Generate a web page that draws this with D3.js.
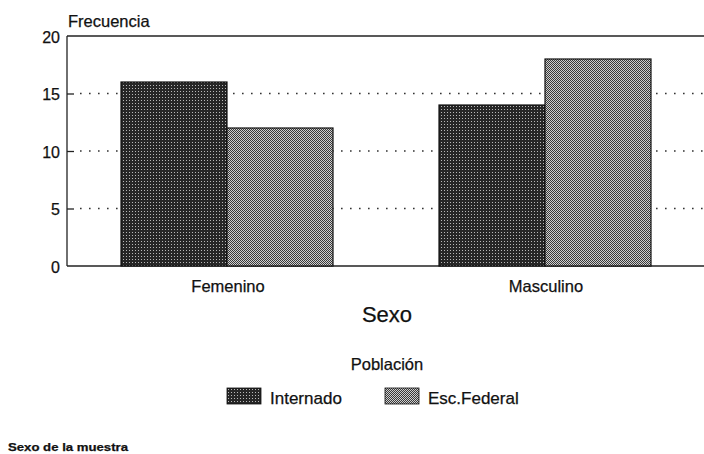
<!DOCTYPE html>
<html>
<head>
<meta charset="utf-8">
<script src="https://cdn.jsdelivr.net/npm/d3@7"></script>
<style>
  body { margin: 0; background: #fff; }
  text { font-family: "Liberation Sans", Arial, sans-serif; fill: #111; stroke: #111; stroke-width: 0.25px; }
</style>
</head>
<body>
<svg width="704" height="454"></svg>
<script>
var categories = ['Femenino', 'Masculino'];
var series = ['Internado', 'Esc.Federal'];
var internado = [16, 14];
var escFederal = [12, 18];
var yTicks = [0, 5, 10, 15, 20];

var svg = d3.select('svg');
var defs = svg.append('defs');

// halftone look of the scanned bars
var p1 = defs.append('pattern').attr('id', 'pInt')
    .attr('width', 3).attr('height', 3).attr('patternUnits', 'userSpaceOnUse');
p1.append('rect').attr('width', 3).attr('height', 3).attr('fill', '#262626');
p1.append('rect').attr('x', 1).attr('y', 1).attr('width', 1).attr('height', 1).attr('fill', '#b8b8b8');

var p2 = defs.append('pattern').attr('id', 'pEsc')
    .attr('width', 2).attr('height', 2).attr('patternUnits', 'userSpaceOnUse');
p2.append('rect').attr('width', 2).attr('height', 2).attr('fill', '#d0d0d0');
p2.append('rect').attr('width', 1).attr('height', 1).attr('fill', '#3a3a3a');
p2.append('rect').attr('x', 1).attr('y', 1).attr('width', 1).attr('height', 1).attr('fill', '#3a3a3a');

var fills = { 'Internado': 'url(#pInt)', 'Esc.Federal': 'url(#pEsc)' };

var mLeft = 67, mRight = 704, mTop = 36, mBottom = 266;

var x0 = d3.scaleBand().domain(categories).range([mLeft, mRight]).padding(0).round(true);
var x1 = d3.scaleBand().domain(series).range([0, x0.bandwidth()])
    .paddingInner(0).paddingOuter(0.5).round(true);
var y = d3.scaleLinear().domain([0, 20]).range([mBottom, mTop]);

// dotted grid
svg.append('g').selectAll('line')
    .data(yTicks.filter(function (d) { return d > 0 && d < 20; }))
    .enter().append('line')
    .attr('x1', mLeft + 13).attr('x2', mRight)
    .attr('y1', function (d) { return y(d); })
    .attr('y2', function (d) { return y(d); })
    .attr('stroke', '#333').attr('stroke-width', 1.6)
    .attr('stroke-dasharray', '1.6,7.4');

// frame
svg.append('line').attr('x1', mLeft).attr('x2', mRight).attr('y1', mTop).attr('y2', mTop)
    .attr('stroke', '#222').attr('stroke-width', 1.3);
svg.append('line').attr('x1', mLeft).attr('x2', mRight).attr('y1', mBottom).attr('y2', mBottom)
    .attr('stroke', '#222').attr('stroke-width', 1.3);
svg.append('line').attr('x1', mLeft).attr('x2', mLeft).attr('y1', mTop).attr('y2', mBottom)
    .attr('stroke', '#222').attr('stroke-width', 1.3);

// bars
var rows = categories.map(function (c, i) {
  return { cat: c, vals: [{ s: 'Internado', v: internado[i] }, { s: 'Esc.Federal', v: escFederal[i] }] };
});
var grp = svg.append('g').selectAll('g').data(rows).enter().append('g')
    .attr('transform', function (d) { return 'translate(' + x0(d.cat) + ',0)'; });
grp.selectAll('rect').data(function (d) { return d.vals; }).enter().append('rect')
    .attr('x', function (d) { return x1(d.s); })
    .attr('y', function (d) { return y(d.v); })
    .attr('width', x1.bandwidth())
    .attr('height', function (d) { return y(0) - y(d.v); })
    .attr('fill', function (d) { return fills[d.s]; })
    .attr('stroke', '#111').attr('stroke-width', 1.2);

// y axis
var yAxis = d3.axisLeft(y).tickValues(yTicks).tickSize(-7).tickPadding(14);
var ya = svg.append('g').attr('transform', 'translate(' + mLeft + ',0)').call(yAxis);
ya.select('.domain').remove();
ya.selectAll('.tick line').attr('stroke', '#222').attr('stroke-width', 1.3)
    .filter(function (d) { return d === 0 || d === 20; }).remove();
ya.selectAll('.tick text').attr('font-size', 16).attr('font-family', '"Liberation Sans", Arial, sans-serif')
    .attr('fill', '#111').attr('x', -7).attr('dy', '0.4em');

svg.append('text').attr('x', 68).attr('y', 27).attr('font-size', 16.5).text('Frecuencia');

// category labels
svg.append('g').selectAll('text').data(categories).enter().append('text')
    .attr('x', function (d) { return x0(d) + x0.bandwidth() / 2 + 1; })
    .attr('y', 292).attr('text-anchor', 'middle').attr('font-size', 16.5)
    .text(function (d) { return d; });

svg.append('text').attr('x', 387).attr('y', 322).attr('text-anchor', 'middle')
    .attr('font-size', 22).text('Sexo');
svg.append('text').attr('x', 387).attr('y', 370).attr('text-anchor', 'middle')
    .attr('font-size', 16.5).text('Población');

// legend
var legX = [227, 385];
var leg = svg.append('g').selectAll('g').data(series).enter().append('g')
    .attr('transform', function (d, i) { return 'translate(' + legX[i] + ',388)'; });
leg.append('rect').attr('width', 34).attr('height', 16)
    .attr('fill', function (d) { return fills[d]; })
    .attr('stroke', '#111').attr('stroke-width', 0.8);
leg.append('text').attr('x', 43).attr('y', 16).attr('font-size', 17)
    .text(function (d) { return d; });

svg.append('text').attr('x', 8).attr('y', 451).attr('font-size', 11)
    .attr('font-weight', 'bold').attr('textLength', 120)
    .attr('lengthAdjust', 'spacingAndGlyphs').text('Sexo de la muestra');
</script>
</body>
</html>
